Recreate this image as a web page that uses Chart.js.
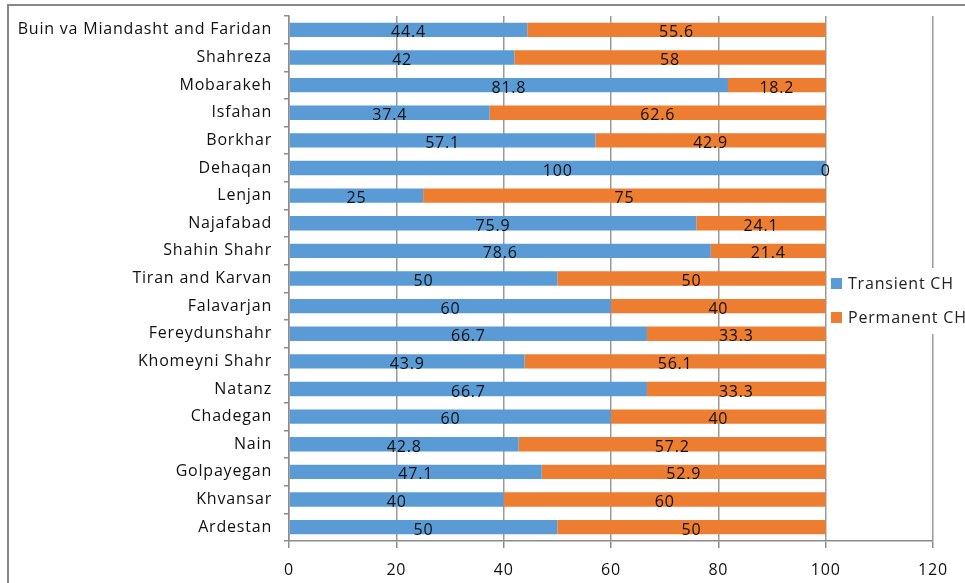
<!DOCTYPE html>
<html>
<head>
<meta charset="utf-8">
<script src="https://cdn.jsdelivr.net/npm/chart.js@4.4.0/dist/chart.umd.min.js"></script>
<style>
  html, body { margin: 0; padding: 0; background: #fff; }
  #wrap { width: 965px; height: 583px; position: relative; }
</style>
</head>
<body>
<div id="wrap"><canvas id="chart"></canvas></div>
<script>
// counties, top to bottom as in the figure
var counties = [
  "Buin va Miandasht and Faridan", "Shahreza", "Mobarakeh", "Isfahan", "Borkhar",
  "Dehaqan", "Lenjan", "Najafabad", "Shahin Shahr", "Tiran and Karvan",
  "Falavarjan", "Fereydunshahr", "Khomeyni Shahr", "Natanz", "Chadegan",
  "Nain", "Golpayegan", "Khvansar", "Ardestan"
];
var transient = [44.4, 42, 81.8, 37.4, 57.1, 100, 25, 75.9, 78.6, 50, 60, 66.7, 43.9, 66.7, 60, 42.8, 47.1, 40, 50];
var permanent = [55.6, 58, 18.2, 62.6, 42.9, 0, 75, 24.1, 21.4, 50, 40, 33.3, 56.1, 33.3, 40, 57.2, 52.9, 60, 50];
var xTicks = [0, 20, 40, 60, 80, 100, 120];

var fontFam = "'Open Sans', sans-serif";

// a little extra spacing between letters, like the source figure
var spacing = {
  id: "spacing",
  beforeDraw: function (chart) { chart.ctx.letterSpacing = "0.8px"; }
};

// values written in the middle of each segment
var segLabels = {
  id: "segLabels",
  afterDatasetsDraw: function (chart) {
    var ctx = chart.ctx;
    ctx.save();
    ctx.font = "16px " + fontFam;
    ctx.fillStyle = "#111";
    ctx.textAlign = "center";
    ctx.textBaseline = "middle";
    chart.data.datasets.forEach(function (ds, di) {
      chart.getDatasetMeta(di).data.forEach(function (bar, i) {
        var cx = (bar.x + bar.base) / 2;
        ctx.fillText(String(ds.data[i]), cx, bar.y + 3);
      });
    });
    ctx.restore();
  }
};

// frame lines and legend box drawn over the plot
var frameLegend = {
  id: "frameLegend",
  afterDraw: function (chart) {
    var ctx = chart.ctx;
    ctx.save();
    ctx.fillStyle = "#fff";
    ctx.fillRect(828, 268, 137, 66);
    ctx.font = "16px " + fontFam;
    ctx.textBaseline = "middle";
    ctx.textAlign = "left";
    chart.data.datasets.forEach(function (ds, i) {
      var y = 284 + i * 34;
      ctx.fillStyle = ds.backgroundColor;
      ctx.fillRect(831, y - 6, 11, 11);
      ctx.fillStyle = "#222";
      ctx.fillText(ds.label, 848, y);
    });

    ctx.strokeStyle = "#888";
    ctx.lineWidth = 2;
    ctx.beginPath();
    ctx.moveTo(965, 5);
    ctx.lineTo(8, 5);
    ctx.lineTo(8, 583);
    ctx.stroke();
    ctx.restore();
  }
};

new Chart(document.getElementById("chart"), {
  type: "bar",
  data: {
    labels: counties,
    datasets: [
      { label: "Transient CH", data: transient, backgroundColor: "#5B9BD5",
        barPercentage: 0.52, categoryPercentage: 1 },
      { label: "Permanent CH", data: permanent, backgroundColor: "#ED7D31",
        barPercentage: 0.52, categoryPercentage: 1 }
    ]
  },
  options: {
    indexAxis: "y",
    responsive: true,
    maintainAspectRatio: false,
    animation: false,
    layout: { padding: { left: 0, right: 32, top: 16, bottom: 0 } },
    plugins: { legend: { display: false }, tooltip: { enabled: false } },
    scales: {
      x: {
        stacked: true,
        min: 0, max: 120,
        afterBuildTicks: function (scale) {
          scale.ticks = xTicks.map(function (v) { return { value: v }; });
        },
        afterFit: function (scale) { scale.height = 42; },
        border: { color: "#8c8c8c", width: 1.5 },
        grid: { color: "#9a9a9a", lineWidth: 1.5, tickLength: 7, tickColor: "#8c8c8c" },
        ticks: { color: "#111", font: { family: fontFam, size: 16 }, padding: 13, maxRotation: 0 }
      },
      y: {
        stacked: true,
        afterFit: function (scale) {
          scale.width = 289;
          scale.paddingTop = 0;
          scale.paddingBottom = 0;
        },
        border: { color: "#8c8c8c", width: 1.5 },
        grid: { offset: true, drawOnChartArea: false, tickLength: 5, tickColor: "#8c8c8c", lineWidth: 1.5 },
        ticks: { color: "#111", font: { family: fontFam, size: 16 }, padding: 12, autoSkip: false }
      }
    }
  },
  plugins: [spacing, segLabels, frameLegend]
});
</script>
</body>
</html>
